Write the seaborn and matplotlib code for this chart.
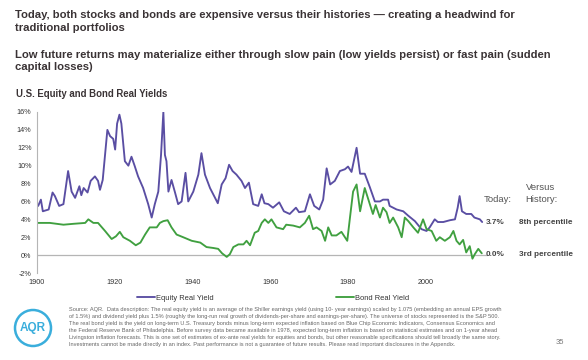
import matplotlib
matplotlib.use("Agg")
import matplotlib.pyplot as plt
import pandas as pd
import seaborn as sns
from matplotlib.patches import Circle

# Equity real yield (%)
eq_years = [1900.3, 1901, 1901.5, 1903, 1904, 1904.6, 1905.7, 1906.8, 1908, 1908.9,
            1909.8, 1910.9, 1911.4, 1912, 1913, 1913.8, 1914.9, 1915.7, 1916.2, 1916.9,
            1918.1, 1918.8, 1919.6, 1920.1, 1920.6, 1921.2, 1921.7, 1922.6, 1923.5, 1924.3,
            1925.1, 1926, 1927.3, 1928.6, 1929.5, 1930.3, 1931.2, 1931.9, 1932.5, 1932.9,
            1933.3, 1933.8, 1934.6, 1935.5, 1936.3, 1937.2, 1938.2, 1938.9, 1940.2, 1941.5,
            1942.3, 1943.2, 1944.5, 1945.8, 1946.5, 1947.5, 1948.5, 1949.4, 1950.3, 1951.3,
            1952.6, 1953.5, 1954.5, 1955.6, 1956.9, 1957.8, 1958.5, 1959.5, 1960.7, 1962.3,
            1963.5, 1965, 1966.6, 1967.4, 1968.9, 1970.2, 1971.3, 1972.6, 1973.6, 1974.5,
            1975.4, 1976.6, 1977.9, 1979.2, 1980, 1980.9, 1982.2, 1983.1, 1984.3, 1985.6,
            1986.9, 1988.2, 1989, 1990.3, 1990.7, 1992.5, 1994.2, 1995.5, 1997.2, 1998.9,
            2000.2, 2001, 2002.3, 2003.1, 2004.5, 2006.2, 2007.5, 2008.2, 2008.7, 2009.3,
            2010.4, 2011.7, 2012.5, 2013.9, 2014.5]
eq_yield = [5.5, 6.2, 4.9, 5.1, 7.0, 6.6, 5.5, 5.7, 9.4, 7.1,
            6.4, 7.7, 6.7, 7.5, 7.0, 8.3, 8.8, 8.3, 7.3, 8.4,
            14.0, 13.3, 13.0, 11.8, 14.7, 15.7, 14.7, 10.5, 10.0, 11.0,
            10.0, 8.8, 7.5, 5.7, 4.2, 5.7, 7.1, 11.2, 16.0, 11.2,
            10.5, 7.1, 8.4, 7.0, 5.7, 6.0, 9.2, 6.0, 7.1, 9.0,
            11.4, 9.0, 7.5, 6.4, 5.8, 7.9, 8.6, 10.1, 9.4, 9.0,
            8.3, 7.5, 8.1, 5.7, 5.5, 6.8, 5.8, 5.7, 5.3, 5.9,
            4.9, 4.6, 5.3, 4.8, 4.9, 6.8, 5.5, 5.1, 6.2, 9.7,
            7.9, 8.3, 9.4, 9.6, 9.9, 9.3, 12.0, 9.1, 9.1, 7.6,
            6.0, 6.0, 6.2, 6.2, 5.5, 5.1, 4.9, 4.4, 3.8, 2.9,
            2.7, 3.1, 4.0, 3.7, 3.7, 3.9, 4.0, 5.3, 6.6, 4.9,
            4.6, 4.6, 4.2, 4.0, 3.7]

# Bond real yield (%)
bond_years = [1900.3, 1903.3, 1906.8, 1909.4, 1912.4, 1913.2, 1914.5, 1915.7, 1917.5, 1919.2,
              1920.3, 1921.3, 1922.2, 1923.9, 1925.4, 1926.6, 1927.8, 1929, 1930.8, 1931.6,
              1932.5, 1933.6, 1934.6, 1935.9, 1937.6, 1939.8, 1942, 1943.6, 1945.3, 1946.6,
              1947.6, 1948.8, 1949.6, 1950.5, 1951.8, 1953.1, 1953.9, 1954.8, 1956, 1956.9,
              1957.8, 1958.6, 1959.5, 1960.3, 1961.6, 1963.3, 1964.1, 1965.9, 1967.6, 1968.9,
              1970, 1971, 1971.9, 1973.2, 1974.1, 1974.9, 1975.8, 1977, 1978.3, 1979.8,
              1980.5, 1981.3, 1982.2, 1983.1, 1984.3, 1985.6, 1986.4, 1987.1, 1988.2, 1989,
              1989.9, 1990.7, 1991.6, 1992.9, 1993.8, 1994.6, 1995.5, 1996.8, 1998, 1999.3,
              2000.2, 2001.5, 2002.7, 2003.6, 2004.9, 2006.2, 2007.1, 2007.9, 2008.7, 2009.6,
              2010.4, 2011.3, 2012, 2012.6, 2013.5, 2014.4]
bond_yield = [3.6, 3.6, 3.4, 3.5, 3.6, 4.0, 3.6, 3.6, 2.7, 1.8,
              2.1, 2.6, 2.0, 1.6, 1.1, 1.4, 2.3, 3.1, 3.1, 3.6,
              3.8, 3.9, 3.1, 2.3, 2.0, 1.6, 1.4, 0.9, 0.8, 0.7,
              0.2, -0.2, 0.1, 0.9, 1.2, 1.2, 1.6, 1.1, 2.5, 2.7,
              3.6, 4.0, 3.6, 4.0, 3.1, 2.9, 3.4, 3.3, 3.1, 3.6,
              4.4, 2.9, 3.1, 2.7, 1.6, 3.1, 2.2, 2.2, 2.6, 1.6,
              4.2, 7.1, 7.9, 4.9, 7.5, 5.7, 4.6, 5.6, 4.2, 5.3,
              4.8, 3.6, 4.2, 3.1, 2.0, 4.2, 3.8, 3.1, 2.5, 4.0,
              2.9, 2.7, 1.6, 2.0, 1.6, 2.0, 2.7, 1.6, 1.2, 1.7,
              0.3, 1.0, -0.4, 0.1, 0.7, 0.2]

series_names = ["Equity Real Yield", "Bond Real Yield"]
today_values = ["3.7%", "0.0%"]
percentiles = ["8th percentile", "3rd percentile"]
x_ticks = [1900, 1920, 1940, 1960, 1980, 2000]
y_ticks = list(range(-2, 17, 2))

purple = "#5a4ea3"
green = "#40a040"
dark = "#3a3335"
blue = "#3aaedc"

sns.set_theme(style="white")
plt.rcParams["font.family"] = ["Liberation Sans", "DejaVu Sans"]

W, H = 588, 360
fig = plt.figure(figsize=(W / 100, H / 100), dpi=100)


def fx(px):
    return px / W


def fy(py):
    return 1 - py / H


ax = fig.add_axes([fx(37), fy(273), (488 - 37) / W, (273 - 112) / H])

eq_df = pd.DataFrame({"year": eq_years, "value": eq_yield})
bond_df = pd.DataFrame({"year": bond_years, "value": bond_yield})
sns.lineplot(data=eq_df, x="year", y="value", ax=ax, color=purple, lw=1.35,
             label=series_names[0], estimator=None)
sns.lineplot(data=bond_df, x="year", y="value", ax=ax, color=green, lw=1.35,
             label=series_names[1], estimator=None)
handles, labels = ax.get_legend_handles_labels()
ax.get_legend().remove()

ax.axhline(0, color="#b5b5b5", lw=0.9, zorder=0)
ax.set_xlim(1900, 2016)
ax.set_ylim(-2, 16)
ax.set_xticks(x_ticks)
ax.set_yticks(y_ticks)
ax.set_yticklabels([f"{v}%" for v in y_ticks])
ax.tick_params(axis="both", length=0, labelsize=5.2, colors="#333333", pad=4)
ax.set_xlabel("")
ax.set_ylabel("")
for side in ["top", "right", "bottom"]:
    ax.spines[side].set_visible(False)
ax.spines["left"].set_color("#b5b5b5")
ax.spines["left"].set_linewidth(0.8)

fig.legend(handles, labels, loc="center left", bbox_to_anchor=(fx(130), fy(298)),
           ncol=2, frameon=False, fontsize=5.4, handlelength=2.4, handletextpad=0.1,
           columnspacing=16.4, labelcolor="#333333")

# headings
fig.text(fx(15), fy(10.5), "Today, both stocks and bonds are expensive versus their histories \u2014 creating a headwind for\ntraditional portfolios",
         fontsize=8.1, fontweight="bold", color=dark, va="top", linespacing=1.33)
fig.text(fx(15), fy(49.5), "Low future returns may materialize either through slow pain (low yields persist) or fast pain (sudden\ncapital losses)",
         fontsize=8.1, fontweight="bold", color=dark, va="top", linespacing=1.33)
fig.text(fx(16), fy(94), "U.S. Equity and Bond Real Yields", fontsize=6.9, fontweight="bold",
         color=dark, va="center")

# right side annotations
fig.text(fx(541), fy(187), "Versus", fontsize=6.8, color="#555555", ha="center", va="center")
fig.text(fx(541), fy(200), "History:", fontsize=6.8, color="#555555", ha="center", va="center")
fig.text(fx(498), fy(200), "Today:", fontsize=6.8, color="#555555", ha="center", va="center")
for yy, val, pct in zip([223, 255], today_values, percentiles):
    fig.text(fx(486), fy(yy), val, fontsize=5.9, fontweight="bold", color="#444444", va="center")
    fig.text(fx(519), fy(yy), pct, fontsize=5.9, fontweight="bold", color="#444444", va="center")

# footnote
note = ("Source: AQR.  Data description: The real equity yield is an average of the Shiller earnings yield (using 10- year earnings) scaled by 1.075 (embedding an annual EPS growth\n"
        "of 1.5%) and dividend yield plus 1.5% (roughly the long-run real growth of dividends-per-share and earnings-per-share). The universe of stocks represented is the S&P 500.\n"
        "The real bond yield is the yield on long-term U.S. Treasury bonds minus long-term expected inflation based on Blue Chip Economic Indicators, Consensus Economics and\n"
        "the Federal Reserve Bank of Philadelphia. Before survey data became available in 1978, expected long-term inflation is based on statistical estimates and on 1-year ahead\n"
        "Livingston inflation forecasts. This is one set of estimates of ex-ante real yields for equities and bonds, but other reasonable specifications should tell broadly the same story.\n"
        "Investments cannot be made directly in an index. Past performance is not a guarantee of future results. Please read important disclosures in the Appendix.")
fig.text(fx(69), fy(307), note, fontsize=4.05, color="#666666", va="top", linespacing=1.48)
fig.text(fx(560), fy(343), "35", fontsize=5.5, color="#777777", va="center", ha="center")

# AQR logo
logo_ax = fig.add_axes([fx(13), fy(348), 40 / W, 40 / H])
logo_ax.set_xlim(-1, 1)
logo_ax.set_ylim(-1, 1)
logo_ax.set_aspect("equal")
logo_ax.axis("off")
logo_ax.add_patch(Circle((0, 0), 0.9, fill=False, ec=blue, lw=1.8))
logo_ax.text(0, -0.02, "AQR", fontsize=8.5, fontweight="bold", color=blue, ha="center", va="center")

fig.savefig("out.png", dpi=100, facecolor="white")
